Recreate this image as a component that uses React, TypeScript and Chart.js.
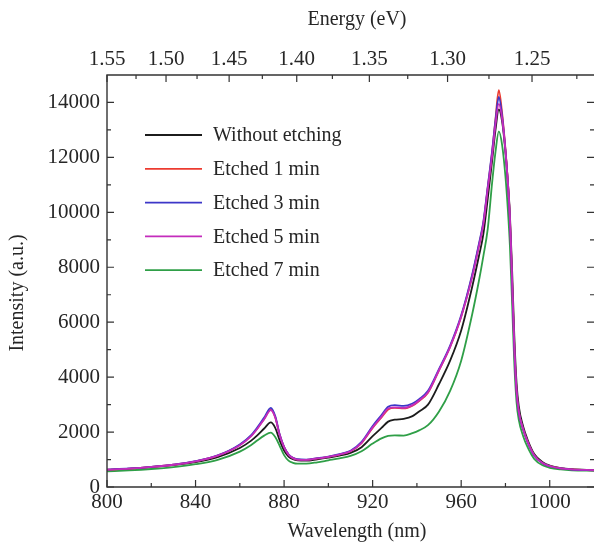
import React, { useEffect, useRef } from 'react';
import { Chart, registerables } from 'chart.js';

Chart.register(...registerables);

// ---------- data ----------
const wavelengths = [
  800, 810, 820, 830, 840, 850, 860, 865, 868, 871, 874, 876, 878, 880, 882, 884, 886, 890, 895, 900,
  905, 910, 915, 920, 924, 927, 930, 934, 938, 941, 945, 950, 955, 960, 965, 968, 970, 972, 974, 975.5,
  977, 978.5, 980, 981, 982, 983, 984, 985, 986, 988, 990, 993, 997, 1000, 1005, 1010, 1020,
];

const withoutEtching = [
  620, 660, 720, 800, 905, 1090, 1420, 1680, 1890, 2130, 2350, 2150, 1700, 1330, 1110, 1010, 970, 960, 1010, 1070,
  1140, 1240, 1450, 1850, 2150, 2380, 2450, 2480, 2580, 2750, 3000, 3750, 4600, 5700, 7300, 8400, 9200, 10500, 11900, 13000,
  13750, 13300, 12200, 11200, 9950, 7900, 5500, 3800, 2950, 2200, 1720, 1200, 890, 780, 690, 650, 615,
];

const etched1 = [
  630, 670, 730, 810, 930, 1140, 1530, 1850, 2140, 2480, 2820, 2540, 1900, 1450, 1180, 1050, 1000, 990, 1040, 1100,
  1180, 1300, 1600, 2150, 2530, 2820, 2880, 2860, 2960, 3130, 3430, 4250, 5100, 6200, 7700, 8800, 9600, 10900, 12200, 13400,
  14450, 13600, 12300, 11200, 9800, 7500, 5100, 3500, 2750, 2100, 1640, 1150, 860, 760, 680, 640, 610,
];

const etched3 = [
  635, 675, 735, 815, 940, 1150, 1550, 1880, 2180, 2530, 2880, 2580, 1920, 1460, 1190, 1060, 1010, 1000, 1050, 1110,
  1200, 1320, 1640, 2220, 2620, 2920, 2980, 2950, 3040, 3200, 3500, 4300, 5150, 6250, 7750, 8850, 9650, 10950, 12250, 13350,
  14200, 13500, 12250, 11150, 9750, 7450, 5050, 3480, 2730, 2090, 1630, 1140, 855, 755, 675, 635, 608,
];

const etched5 = [
  630, 670, 730, 810, 935, 1140, 1520, 1840, 2130, 2470, 2800, 2530, 1890, 1450, 1180, 1050, 1000, 990, 1040, 1100,
  1180, 1300, 1610, 2170, 2560, 2860, 2900, 2880, 2980, 3150, 3450, 4260, 5100, 6200, 7650, 8750, 9550, 10850, 12100, 13200,
  13950, 13400, 12250, 11200, 9850, 7550, 5150, 3520, 2760, 2110, 1650, 1160, 865, 765, 682, 642, 612,
];

const etched7 = [
  570, 605, 655, 725, 830, 990, 1290, 1520, 1700, 1870, 1980, 1820, 1500, 1160, 960, 880, 850, 850, 900, 970,
  1040, 1130, 1300, 1580, 1770, 1860, 1880, 1870, 1960, 2060, 2250, 2750, 3500, 4600, 6300, 7500, 8400, 9400, 11100, 12200,
  12950, 12450, 11300, 10200, 8800, 6700, 4500, 3100, 2450, 1850, 1450, 1020, 780, 700, 640, 610, 590,
];

const seriesLabels = ['Without etching', 'Etched 1 min', 'Etched 3 min', 'Etched 5 min', 'Etched 7 min'];
const seriesData = [withoutEtching, etched1, etched3, etched5, etched7];
const seriesColors = ['#1c1c1c', '#ec3b30', '#3d37c8', '#c42cbc', '#2f9f47'];
const seriesOrder = [5, 3, 2, 1, 4];

const wavelengthTicks = [800, 840, 880, 920, 960, 1000];
const energyTicks = [1.55, 1.5, 1.45, 1.4, 1.35, 1.3, 1.25];
const intensityTicks = [0, 2000, 4000, 6000, 8000, 10000, 12000, 14000];

const HC = 1240; // eV*nm
const FONT = 'Liberation Serif, Times New Roman, serif';
const TEXT = '#262626';
const AXIS = '#333333';

// ---------- plugin: frame, inward ticks, titles, legend ----------
const decorPlugin = {
  id: 'decor',
  afterDraw(chart: any) {
    const { ctx, chartArea: a, scales } = chart;
    const xs = scales.x;
    const xt = scales.xTop;
    const ys = scales.y;
    ctx.save();
    ctx.strokeStyle = AXIS;
    ctx.lineWidth = 1.4;
    ctx.beginPath();
    ctx.moveTo(a.right, a.top);
    ctx.lineTo(a.left, a.top);
    ctx.lineTo(a.left, a.bottom);
    ctx.lineTo(a.right, a.bottom);
    ctx.stroke();

    const MAJ = 7;
    const MIN = 4;
    ctx.lineWidth = 1.2;
    ctx.beginPath();
    wavelengthTicks.forEach((w) => {
      const px = xs.getPixelForValue(w);
      ctx.moveTo(px, a.bottom);
      ctx.lineTo(px, a.bottom - MAJ);
      const mid = w + (wavelengthTicks[1] - wavelengthTicks[0]) / 2;
      if (mid < xs.max) {
        const pm = xs.getPixelForValue(mid);
        ctx.moveTo(pm, a.bottom);
        ctx.lineTo(pm, a.bottom - MIN);
      }
    });
    energyTicks.forEach((e) => {
      const px = xt.getPixelForValue(HC / e);
      ctx.moveTo(px, a.top);
      ctx.lineTo(px, a.top + MAJ);
      const em = e - (energyTicks[0] - energyTicks[1]) / 2;
      const wm = HC / em;
      if (wm < xt.max) {
        const pm = xt.getPixelForValue(wm);
        ctx.moveTo(pm, a.top);
        ctx.lineTo(pm, a.top + MIN);
      }
    });
    intensityTicks.forEach((v) => {
      const py = ys.getPixelForValue(v);
      ctx.moveTo(a.left, py);
      ctx.lineTo(a.left + MAJ, py);
      ctx.moveTo(a.right, py);
      ctx.lineTo(a.right - MAJ, py);
      const mid = v + (intensityTicks[1] - intensityTicks[0]) / 2;
      if (mid < ys.max) {
        const pm = ys.getPixelForValue(mid);
        ctx.moveTo(a.left, pm);
        ctx.lineTo(a.left + MIN, pm);
        ctx.moveTo(a.right, pm);
        ctx.lineTo(a.right - MIN, pm);
      }
    });
    ctx.stroke();

    ctx.fillStyle = TEXT;
    ctx.font = `20px ${FONT}`;
    ctx.textAlign = 'center';
    ctx.textBaseline = 'middle';
    ctx.fillText('Energy (eV)', 357, 20);
    ctx.fillText('Wavelength (nm)', 357, 532);
    ctx.save();
    ctx.translate(18, 293);
    ctx.rotate(-Math.PI / 2);
    ctx.fillText('Intensity (a.u.)', 0, 0);
    ctx.restore();

    const lx0 = 145;
    const lx1 = 202;
    const tx = 213;
    const ly0 = 135;
    const step = 33.8;
    ctx.textAlign = 'left';
    ctx.font = `20px ${FONT}`;
    chart.data.datasets.forEach((ds: any, i: number) => {
      const yy = ly0 + i * step;
      ctx.strokeStyle = ds.borderColor;
      ctx.lineWidth = 1.8;
      ctx.beginPath();
      ctx.moveTo(lx0, yy);
      ctx.lineTo(lx1, yy);
      ctx.stroke();
      ctx.fillStyle = TEXT;
      ctx.fillText(ds.label, tx, yy + 1);
    });
    ctx.restore();
  },
};

export default function App() {
  const ref = useRef<HTMLCanvasElement | null>(null);

  useEffect(() => {
    if (!ref.current) return;
    const datasets = seriesLabels.map((label, i) => ({
      label,
      data: wavelengths.map((w, j) => ({ x: w, y: seriesData[i][j] })),
      borderColor: seriesColors[i],
      backgroundColor: seriesColors[i],
      borderWidth: 1.8,
      pointRadius: 0,
      cubicInterpolationMode: 'monotone' as const,
      order: seriesOrder[i],
      fill: false,
    }));

    const tickFont = { family: FONT, size: 21 };

    const chart = new Chart(ref.current, {
      type: 'line',
      data: { datasets },
      plugins: [decorPlugin],
      options: {
        animation: false,
        responsive: false,
        devicePixelRatio: 1,
        layout: { padding: 0 },
        plugins: { legend: { display: false }, tooltip: { enabled: false } },
        scales: {
          x: {
            type: 'linear',
            position: 'bottom',
            min: 800,
            max: 1020,
            grid: { display: false, drawTicks: false },
            border: { display: false },
            ticks: {
              font: tickFont,
              color: TEXT,
              padding: 3,
              autoSkip: false,
              maxRotation: 0,
              callback: (v: any) => String(v),
            },
            afterBuildTicks: (s: any) => {
              s.ticks = wavelengthTicks.map((v) => ({ value: v }));
            },
            afterFit: (s: any) => {
              s.height = 66;
            },
          },
          xTop: {
            type: 'linear',
            position: 'top',
            min: 800,
            max: 1020,
            grid: { display: false, drawTicks: false },
            border: { display: false },
            ticks: {
              font: tickFont,
              color: TEXT,
              padding: 3,
              autoSkip: false,
              maxRotation: 0,
              callback: (_v: any, i: number) => energyTicks[i].toFixed(2),
            },
            afterBuildTicks: (s: any) => {
              s.ticks = energyTicks.map((e) => ({ value: HC / e }));
            },
            afterFit: (s: any) => {
              s.height = 75;
            },
          },
          y: {
            type: 'linear',
            position: 'left',
            min: 0,
            max: 15000,
            grid: { display: false, drawTicks: false },
            border: { display: false },
            ticks: {
              font: tickFont,
              color: TEXT,
              padding: 7,
              callback: (v: any) => String(v),
            },
            afterBuildTicks: (s: any) => {
              s.ticks = intensityTicks.map((v) => ({ value: v }));
            },
            afterFit: (s: any) => {
              s.width = 107;
            },
          },
        },
      } as any,
    });
    return () => chart.destroy();
  }, []);

  return (
    <div style={{ position: 'absolute', left: 0, top: 0, width: 594, height: 553, background: '#fff' }}>
      <canvas ref={ref} width={594} height={553} style={{ display: 'block', width: 594, height: 553 }} />
    </div>
  );
}
